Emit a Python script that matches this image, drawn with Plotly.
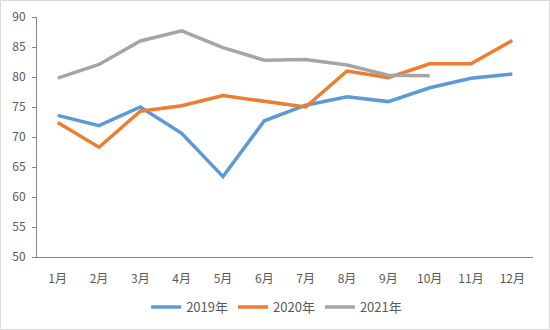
import plotly.graph_objects as go

months = ["1月", "2月", "3月", "4月", "5月", "6月", "7月", "8月", "9月", "10月", "11月", "12月"]
y2019 = [73.6, 71.9, 75.0, 70.6, 63.4, 72.7, 75.3, 76.7, 75.9, 78.2, 79.8, 80.5]
y2020 = [72.4, 68.3, 74.3, 75.2, 76.9, 75.9, 75.0, 81.0, 79.9, 82.2, 82.2, 86.1]
y2021 = [79.8, 82.1, 86.0, 87.7, 84.9, 82.8, 82.9, 82.0, 80.3, 80.2]
y_ticks = [50, 55, 60, 65, 70, 75, 80, 85, 90]

fig = go.Figure()
for name, vals, col in [("2019年", y2019, "#5B9BD5"), ("2020年", y2020, "#ED7D31"), ("2021年", y2021, "#A5A5A5")]:
    fig.add_trace(go.Scatter(x=months[:len(vals)], y=vals, mode="lines", name=name,
                             line=dict(color=col, width=3.5)))

font = dict(family="Noto Sans CJK SC, DejaVu Sans, sans-serif", size=12, color="#595959")
lfont = dict(family="Noto Sans CJK SC, DejaVu Sans, sans-serif", size=13, color="#595959")
fig.update_layout(
    width=550, height=330,
    margin=dict(l=37, r=17, t=17, b=73, autoexpand=False),
    paper_bgcolor="white", plot_bgcolor="white",
    font=font,
    showlegend=True,
    legend=dict(orientation="h", xref="container", yref="container",
                x=0.503, xanchor="center", y=(330 - 307) / 330, yanchor="middle",
                font=lfont, itemwidth=30, tracegroupgap=0),
    xaxis=dict(type="category", categoryorder="array", categoryarray=months,
               range=[-0.5, 11.5], showgrid=False, showline=True, linecolor="#868686",
               linewidth=1, ticks="outside", ticklen=11, tickcolor="rgba(0,0,0,0)",
               tickfont=font, zeroline=False),
    yaxis=dict(range=[50, 90], tickvals=y_ticks, showgrid=False, showline=True,
               linecolor="#868686", linewidth=1, ticks="outside", ticklen=4,
               tickcolor="#868686", tickfont=font, zeroline=False,
               ticklabelstandoff=4),
    shapes=[dict(type="rect", xref="paper", yref="paper",
                 x0=(0.5 - 37) / 496, x1=(549.5 - 37) / 496,
                 y0=(257 - 329.5) / 240, y1=(257 - 0.5) / 240,
                 line=dict(color="#D9D9D9", width=1), fillcolor="rgba(0,0,0,0)", layer="below")],
)
fig.write_html("out.html")
